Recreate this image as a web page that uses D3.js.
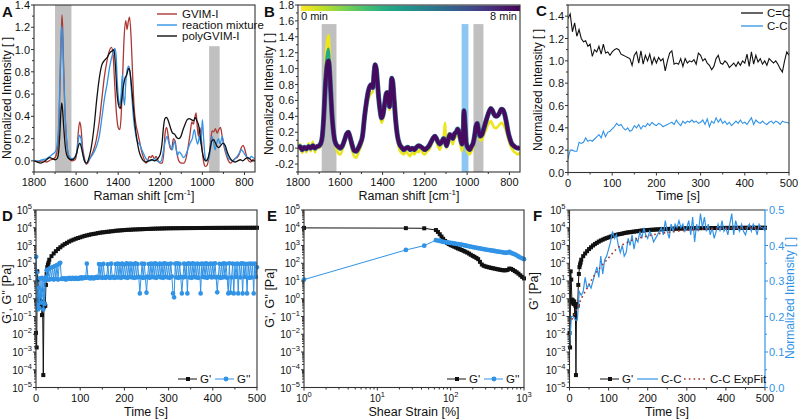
<!DOCTYPE html>
<html><head><meta charset="utf-8">
<script src="https://cdn.jsdelivr.net/npm/d3@7"></script>
<style>body{margin:0;background:#fff}</style>
</head><body><svg id="c" width="800" height="420" xmlns="http://www.w3.org/2000/svg"></svg>
<script>
// ---------------- DATA ----------------
// Panel A: Raman spectra [wavenumber, normalized intensity]
const gvimI = [[1800,0.0],[1780,-0.01],[1760,0.0],[1740,-0.01],[1720,0.01],[1705,0.02],[1695,0.05],[1688,0.12],[1681,0.35],[1675,0.8],[1670,1.15],[1667,1.31],[1664,1.2],[1660,0.9],[1654,0.5],[1647,0.22],[1640,0.08],[1632,0.02],[1620,0.0],[1605,0.01],[1596,0.08],[1590,0.25],[1583,0.35],[1577,0.3],[1569,0.12],[1560,0.02],[1552,-0.03],[1545,-0.02],[1535,0.02],[1520,0.08],[1505,0.18],[1490,0.35],[1478,0.55],[1466,0.75],[1455,0.88],[1445,0.97],[1432,1.02],[1424,0.95],[1417,0.7],[1408,0.42],[1400,0.3],[1392,0.28],[1386,0.4],[1379,0.75],[1372,1.1],[1364,1.26],[1358,1.18],[1352,1.25],[1346,1.29],[1339,1.12],[1332,0.8],[1325,0.5],[1316,0.33],[1308,0.26],[1298,0.17],[1288,0.08],[1278,0.02],[1268,-0.02],[1260,0.0],[1253,0.04],[1245,0.03],[1238,0.05],[1228,0.02],[1220,0.04],[1210,0.0],[1200,-0.02],[1190,-0.02],[1183,0.08],[1177,0.25],[1170,0.3],[1162,0.22],[1154,0.12],[1146,0.1],[1138,0.2],[1130,0.18],[1122,0.08],[1112,0.0],[1100,-0.02],[1088,-0.02],[1078,0.02],[1068,0.12],[1058,0.25],[1050,0.35],[1043,0.33],[1030,0.43],[1024,0.3],[1019,0.22],[1013,0.3],[1007,0.25],[1000,0.08],[993,-0.02],[986,-0.05],[978,-0.04],[970,0.02],[962,0.14],[954,0.27],[946,0.26],[938,0.29],[930,0.25],[922,0.28],[914,0.3],[906,0.22],[896,0.12],[886,0.05],[876,0.0],[866,-0.02],[856,0.0],[845,0.02],[835,0.03],[825,0.06],[815,0.12],[806,0.14],[798,0.1],[790,0.04],[780,0.0],[770,-0.01],[760,0.01],[750,0.0]];
const reactionMix = [[1800,0.0],[1780,0.0],[1760,0.01],[1740,0.02],[1725,0.04],[1712,0.06],[1700,0.08],[1692,0.12],[1685,0.25],[1679,0.55],[1674,0.95],[1669,1.21],[1665,1.15],[1660,0.85],[1654,0.5],[1647,0.25],[1640,0.1],[1632,0.04],[1620,0.02],[1606,0.03],[1596,0.08],[1590,0.18],[1584,0.23],[1577,0.2],[1569,0.08],[1560,0.0],[1552,-0.02],[1545,-0.01],[1535,0.02],[1520,0.06],[1505,0.12],[1490,0.22],[1478,0.38],[1466,0.55],[1452,0.7],[1440,0.85],[1428,0.95],[1416,1.01],[1410,0.95],[1404,0.7],[1398,0.55],[1392,0.5],[1386,0.6],[1380,0.78],[1375,0.58],[1370,0.5],[1364,0.7],[1357,0.82],[1350,0.85],[1344,0.8],[1336,0.6],[1328,0.4],[1318,0.25],[1308,0.17],[1298,0.15],[1288,0.1],[1278,0.06],[1268,0.02],[1258,0.0],[1248,0.0],[1238,0.01],[1228,0.02],[1215,0.0],[1205,-0.01],[1195,0.0],[1186,0.08],[1176,0.18],[1168,0.22],[1160,0.17],[1150,0.12],[1142,0.1],[1134,0.18],[1126,0.12],[1118,0.05],[1110,0.08],[1100,0.06],[1090,0.03],[1080,0.05],[1070,0.1],[1058,0.16],[1048,0.2],[1038,0.28],[1030,0.2],[1022,0.15],[1014,0.22],[1007,0.15],[1000,0.37],[994,0.2],[988,0.05],[980,0.0],[970,0.02],[962,0.1],[955,0.22],[948,0.18],[940,0.1],[932,0.16],[924,0.2],[916,0.15],[906,0.22],[898,0.15],[888,0.08],[878,0.03],[866,0.01],[855,0.0],[845,0.02],[835,0.04],[825,0.07],[815,0.1],[806,0.08],[796,0.05],[786,0.03],[776,0.02],[768,0.04],[760,0.03],[750,0.02]];
const polyGVIM = [[1800,0.0],[1785,-0.01],[1770,-0.02],[1755,-0.01],[1740,0.01],[1725,0.03],[1712,0.02],[1700,0.01],[1690,0.02],[1683,0.08],[1677,0.25],[1672,0.45],[1668,0.52],[1664,0.45],[1658,0.28],[1652,0.14],[1644,0.05],[1634,0.02],[1620,0.01],[1606,0.03],[1596,0.08],[1588,0.14],[1582,0.16],[1575,0.12],[1567,0.05],[1558,-0.01],[1550,-0.02],[1540,0.02],[1528,0.12],[1515,0.3],[1502,0.55],[1490,0.74],[1478,0.86],[1466,0.9],[1452,0.93],[1440,0.97],[1428,0.99],[1420,1.0],[1413,0.85],[1406,0.62],[1398,0.5],[1390,0.47],[1383,0.55],[1376,0.66],[1368,0.74],[1360,0.77],[1350,0.83],[1344,0.8],[1336,0.66],[1328,0.48],[1320,0.32],[1310,0.18],[1300,0.08],[1290,0.03],[1280,0.0],[1268,-0.01],[1255,0.0],[1240,0.01],[1225,0.0],[1212,0.02],[1200,0.06],[1192,0.15],[1185,0.3],[1178,0.38],[1170,0.39],[1162,0.36],[1152,0.3],[1142,0.25],[1132,0.24],[1122,0.21],[1112,0.2],[1102,0.22],[1092,0.28],[1082,0.33],[1072,0.37],[1062,0.38],[1052,0.37],[1042,0.36],[1034,0.39],[1026,0.36],[1018,0.32],[1010,0.22],[1002,0.1],[994,0.03],[984,0.0],[974,0.02],[964,0.1],[955,0.18],[946,0.19],[938,0.16],[930,0.13],[922,0.12],[912,0.14],[902,0.16],[892,0.14],[882,0.08],[870,0.03],[858,0.0],[845,-0.01],[832,0.0],[820,0.01],[808,0.0],[795,0.02],[785,0.03],[775,0.02],[765,0.0],[750,0.0]];
const aLegend = ["GVIM-I", "reaction mixture", "polyGVIM-I"];
const ramanTicks = [1800, 1600, 1400, 1200, 1000, 800];

// Panel B: time-resolved spectra (0 min, ~2 min, 8 min)
const spec0min = [[1800,-0.03],[1790,0.05],[1780,-0.06],[1770,0.0],[1760,-0.05],[1750,0.06],[1740,-0.04],[1730,0.08],[1720,-0.05],[1710,0.03],[1700,0.0],[1692,0.05],[1685,0.2],[1678,0.55],[1672,0.95],[1666,1.25],[1660,1.38],[1655,1.42],[1650,1.2],[1645,0.85],[1640,0.5],[1634,0.25],[1628,0.1],[1620,0.0],[1610,-0.06],[1600,-0.08],[1590,-0.02],[1580,0.08],[1570,0.15],[1562,0.17],[1555,0.1],[1545,-0.02],[1535,-0.1],[1525,-0.12],[1515,-0.06],[1505,0.0],[1495,0.1],[1485,0.32],[1475,0.52],[1467,0.62],[1460,0.66],[1452,0.7],[1446,0.7],[1440,0.9],[1435,1.02],[1430,0.98],[1424,0.8],[1418,0.58],[1412,0.42],[1405,0.32],[1398,0.36],[1390,0.5],[1383,0.62],[1378,0.66],[1372,0.56],[1367,0.48],[1362,0.64],[1357,0.84],[1352,0.82],[1345,0.55],[1338,0.3],[1330,0.1],[1320,-0.02],[1310,-0.06],[1300,-0.08],[1290,-0.04],[1280,-0.07],[1270,-0.1],[1260,-0.05],[1250,-0.08],[1240,-0.03],[1230,-0.05],[1220,0.0],[1210,-0.06],[1200,-0.08],[1190,-0.04],[1180,-0.02],[1170,0.04],[1160,0.1],[1152,0.12],[1145,0.08],[1138,0.02],[1130,-0.02],[1120,0.05],[1112,0.1],[1105,0.32],[1098,0.0],[1090,0.05],[1082,0.12],[1075,0.1],[1068,0.05],[1060,0.12],[1052,0.15],[1045,0.18],[1038,0.12],[1030,0.02],[1024,-0.04],[1019,0.12],[1015,0.42],[1010,0.25],[1004,0.0],[996,-0.06],[988,-0.08],[980,-0.04],[972,0.0],[965,0.1],[958,0.22],[952,0.26],[946,0.18],[938,0.1],[930,0.1],[922,0.16],[912,0.22],[904,0.28],[896,0.32],[888,0.34],[880,0.3],[872,0.26],[864,0.25],[855,0.27],[846,0.3],[838,0.32],[830,0.3],[822,0.26],[814,0.2],[806,0.12],[798,0.05],[790,0.0],[780,-0.04],[770,-0.06],[760,-0.08],[750,-0.05]];
const spec2min = [[1700,0.02],[1692,0.05],[1685,0.18],[1678,0.48],[1672,0.85],[1666,1.1],[1660,1.22],[1655,1.25],[1650,1.06],[1645,0.78],[1640,0.48],[1634,0.25],[1628,0.11],[1620,0.03],[1610,0.0],[1600,-0.02]];
const spec8min = [[1800,0.0],[1790,0.02],[1780,-0.02],[1770,0.01],[1760,-0.01],[1750,0.02],[1740,0.0],[1730,0.03],[1720,0.0],[1710,0.02],[1700,0.03],[1692,0.06],[1685,0.15],[1678,0.4],[1672,0.72],[1666,0.95],[1660,1.08],[1655,1.1],[1650,0.95],[1645,0.7],[1640,0.45],[1634,0.25],[1628,0.12],[1620,0.05],[1610,0.02],[1600,0.0],[1590,0.03],[1580,0.1],[1570,0.18],[1562,0.2],[1555,0.15],[1545,0.05],[1535,-0.03],[1525,-0.04],[1515,0.0],[1505,0.06],[1495,0.15],[1485,0.4],[1475,0.6],[1467,0.72],[1460,0.78],[1452,0.8],[1446,0.76],[1440,0.95],[1435,1.05],[1430,1.0],[1424,0.82],[1418,0.62],[1412,0.48],[1405,0.38],[1398,0.42],[1390,0.56],[1383,0.68],[1378,0.7],[1372,0.6],[1367,0.52],[1362,0.68],[1357,0.88],[1352,0.84],[1345,0.6],[1338,0.35],[1330,0.16],[1320,0.05],[1310,0.01],[1300,-0.02],[1290,0.0],[1280,0.01],[1270,-0.02],[1260,0.0],[1250,-0.02],[1240,0.01],[1230,0.03],[1220,0.02],[1210,0.0],[1200,-0.02],[1190,0.0],[1180,0.03],[1170,0.08],[1160,0.13],[1152,0.15],[1145,0.12],[1138,0.08],[1130,0.05],[1120,0.08],[1112,0.12],[1105,0.1],[1098,0.03],[1090,0.1],[1082,0.17],[1075,0.15],[1068,0.12],[1060,0.18],[1052,0.2],[1045,0.24],[1038,0.2],[1030,0.1],[1024,0.05],[1019,0.18],[1015,0.47],[1010,0.3],[1004,0.06],[996,0.0],[988,-0.02],[980,0.02],[972,0.06],[965,0.15],[958,0.28],[952,0.31],[946,0.22],[938,0.15],[930,0.17],[922,0.24],[912,0.33],[904,0.4],[896,0.46],[888,0.5],[880,0.47],[872,0.42],[864,0.4],[855,0.41],[846,0.45],[838,0.49],[830,0.48],[822,0.42],[814,0.32],[806,0.2],[798,0.12],[790,0.06],[780,0.03],[770,0.01],[760,0.0],[750,0.01]];
const bColorLabels = ["0 min", "8 min"];

// Panel C / F: band intensities vs time
const cTime = [0,5,10,15,20,25,30,35,40,45,50,55,60,65,70,75,80,85,90,95,100,105,110,115,120,125,130,135,140,145,150,155,160,165,170,175,180,185,190,195,200,205,210,215,220,225,230,235,240,245,250,255,260,265,270,275,280,285,290,295,300,305,310,315,320,325,330,335,340,345,350,355,360,365,370,375,380,385,390,395,400,405,410,415,420,425,430,435,440,445,450,455,460,465,470,475,480,485,490,495,500];
const cCC2 = [1.38,1.42,1.26,1.34,1.22,1.28,1.2,1.17,1.18,1.13,1.15,1.04,1.1,1.08,1.13,1.06,1.15,1.07,1.08,1.05,1.08,1.1,1.11,1.1,1.06,1.05,1.04,1.03,1.02,0.96,1.05,1.08,0.98,1.09,0.97,1.05,1.0,1.06,0.97,1.03,0.98,1.03,1.0,1.02,0.91,1.0,1.07,1.09,0.97,0.98,0.97,1.02,0.95,1.02,0.98,1.0,0.99,1.01,0.97,1.07,1.05,1.0,1.02,0.98,0.96,0.92,0.95,1.02,1.05,0.98,0.97,1.0,0.98,0.94,0.96,0.98,0.95,0.99,0.96,1.0,0.98,1.06,0.95,1.08,0.97,1.05,0.99,1.02,0.97,1.0,0.96,1.02,1.0,0.98,1.0,0.97,0.93,0.9,1.0,1.08,1.05];
const cCC1 = [0.12,0.2,0.2,0.19,0.19,0.27,0.26,0.27,0.31,0.28,0.29,0.28,0.3,0.32,0.34,0.31,0.37,0.32,0.36,0.37,0.39,0.41,0.44,0.42,0.43,0.4,0.38,0.4,0.37,0.38,0.42,0.4,0.43,0.39,0.42,0.41,0.44,0.42,0.45,0.43,0.42,0.44,0.43,0.41,0.42,0.43,0.44,0.45,0.43,0.47,0.44,0.42,0.46,0.44,0.46,0.45,0.47,0.45,0.46,0.44,0.45,0.47,0.43,0.48,0.41,0.46,0.44,0.49,0.45,0.48,0.44,0.46,0.43,0.45,0.42,0.44,0.46,0.44,0.47,0.44,0.45,0.43,0.46,0.49,0.43,0.47,0.45,0.44,0.46,0.44,0.43,0.45,0.46,0.44,0.46,0.45,0.43,0.46,0.45,0.45,0.44];
const cLegend = ["C=C", "C-C"];
const timeTicks = [0, 100, 200, 300, 400, 500];

// Panel D / F: time sweep rheology
const gpTime = [0,1.5,3,4.5,6,7.5,9,10.5,12,13.5,15,16.5,18,19.5,21,22.5,24,25.5,27,28.5,30,35,40,45,50,55,60,65,70,75,80,85,90,95,100,105,110,115,120,125,130,135,140,145,150,155,160,165,170,175,180,185,190,195,200,205,210,215,220,225,230,235,240,245,250,255,260,265,270,275,280,285,290,295,300,305,310,315,320,325,330,335,340,345,350,355,360,365,370,375,380,385,390,395,400,405,410,415,420,425,430,435,440,445,450,455,460,465,470,475,480,485,490,495,500];
const gpVal = [0.012,0.0018,35,12,0.9,0.6,0.8,0.5,0.7,0.12,0.4,0.00005,0.35,0.5,0.4,6,25,60,85,110,158,251,355,479,631,794,1000,1202,1413,1660,1905,2138,2399,2630,2884,3162,3467,3715,3981,4266,4467,4677,5012,5248,5495,5623,5888,6026,6310,6457,6761,6918,7079,7244,7413,7586,7674,7762,7943,8035,8128,8222,8318,8414,8511,8610,8710,8810,8913,8974,9036,9120,9183,9247,9333,9360,9390,9420,9450,9480,9500,9530,9550,9580,9600,9620,9640,9660,9680,9700,9720,9740,9750,9770,9780,9800,9810,9820,9840,9850,9860,9870,9880,9890,9900,9910,9920,9930,9940,9950,9955,9960,9970,9980,9990];
const gppTime = [0.5,1.5,3,4.5,6,7.5,9,10.5,12,13.5,15,16.5,18,19.5,21,22.5,24,25.5,27.5,30,32.5,35,37.5,40,42.5,45,47.5,50,52.5,55,57.5,
  60,62.5,65,67.5,70,72.5,75,77.5,80,82.5,85,87.5,90,92.5,95,97.5,100,102.5,105,107.5,110,112.5,115,117.5,120,122.5,125,127.5,130,132.5,135,137.5,140,142.5,145,147.5,150,152.5,155,157.5,160,162.5,165,167.5,170,172.5,175,177.5,180,182.5,185,
  187.5,190,192.5,195,197.5,200,202.5,205,207.5,210,212.5,215,217.5,220,222.5,225,227.5,230,232.5,235,237.5,240,242.5,245,247.5,250,252.5,255,257.5,260,262.5,265,267.5,270,272.5,275,277.5,280,282.5,285,287.5,290,292.5,295,297.5,300,302.5,305,307.5,310,312.5,315,317.5,320,322.5,325,327.5,330,332.5,335,337.5,340,342.5,345,347.5,350,352.5,355,357.5,360,362.5,365,367.5,370,372.5,375,377.5,380,382.5,385,387.5,390,392.5,395,397.5,400,402.5,405,407.5,410,412.5,415,417.5,420,422.5,425,427.5,430,432.5,435,437.5,440,442.5,445,447.5,450,452.5,455,457.5,460,462.5,465,467.5,470,472.5,475,477.5,480,482.5,485,487.5,490,492.5,495,497.5,500];
const gppVal = [230,30,0.45,0.25,4,0.3,14,1.5,0.6,15,3,0.25,12,0.5,15,16,40,12,45,12,55,13,62,12,70,13,80,12,95,105,13,
  14,13,14,12,14,13,15,14,13,15,14,13,15,14,13,15,14,16,14,15,16,15,95,16,15,14,16,15,14,16,15,17,15,90,16,85,15,92,16,15,17,88,16,15,95,16,17,15,90,16,95,
  16,90,15,95,17,85,16,98,15,92,
  17,95,16,88,15,100,16,90,17,2,
  16,95,15,92,16,2.2,18,90,15,97,
  17,92,16,100,15,88,18,95,16,90,
  15,98,17,93,16,90,15,96,18,2,
  1.2,95,16,100,15,92,17,2,16,95,
  17,90,2,98,16,93,15,100,17,91,
  16,96,15,90,2,95,17,92,16,98,
  15,90,18,97,16,92,17,100,16,2.3,
  17,94,15,90,16,98,17,93,15,2,
  100,2.2,16,95,2,90,17,96,2,91,
  16,98,2,95,17,90,2,93,15,97,
  16,92,2,95,17,60];
const dLegend = ["G'", "G''"];

// Panel E: strain sweep
const strainGp = [1,24.5,43.6,63,67,71,75,79,84,89,94,100,106,112,119,126,133,141,150,158,168,178,188,200,211,224,237,251,266,282,299,316,335,355,376,398,422,447,473,501,531,562,596,631,668,708,750,794,841,891,944,1000];
const eGp = [9800,9500,9300,7400,5800,4300,3200,2400,1800,1400,1200,1050,950,850,760,680,620,560,500,450,400,350,300,260,230,200,170,120,85,72,66,62,58,55,52,50,47,45,43,41,40,40,42,50,48,42,36,31,26,21,17,14];
const eGpp = [12,560,980,2000,1900,1800,1700,1600,1550,1500,1450,1400,1350,1300,1250,1200,1150,1100,1050,1000,950,900,860,820,780,740,710,680,650,620,590,570,550,530,510,490,470,450,440,420,400,390,400,430,380,350,320,280,240,210,190,170];
const logDecades = [-5,-4,-3,-2,-1,0,1,2,3,4,5];
const strainDecades = [0,1,2,3];

// Panel F: exponential fit of C-C band
const fitTime = [0,10,20,30,40,50,60,80,100,120,150,200,250,300,400,500];
const fitVal = [0.18,0.2,0.225,0.25,0.27,0.29,0.31,0.34,0.365,0.39,0.41,0.427,0.437,0.443,0.448,0.45];
const fLegend = ["G'", "C-C", "C-C ExpFit"];

// ---------------- DRAWING ----------------
const FONT = "'Liberation Sans', Arial, Helvetica, sans-serif";
const BLUE = '#3193e6';
const RED = '#ae3833';
const AXC = '#333333';
const BAND = '#c0c0c0';
const svg = d3.select('#c');

function text(x, y, s, o = {}) {
  const t = svg.append('text').attr('x', x).attr('y', y).text(s)
    .attr('font-family', FONT).attr('font-size', o.size || 11)
    .attr('fill', o.fill || '#111').attr('text-anchor', o.anchor || 'start');
  if (o.weight) t.attr('font-weight', o.weight);
  if (o.rot) t.attr('transform', `rotate(${o.rot},${x},${y})`);
  return t;
}
function line(x1, y1, x2, y2, c = AXC, w = 1) {
  svg.append('line').attr('x1', x1).attr('y1', y1).attr('x2', x2).attr('y2', y2).attr('stroke', c).attr('stroke-width', w);
}
function pow10(t, k) {
  t.text('10');
  t.append('tspan').attr('dy', -5).attr('font-size', 7.5).text(k < 0 ? '\u2212' + (-k) : String(k));
}
function clip(id, b) {
  svg.append('clipPath').attr('id', id).append('rect').attr('x', b.l).attr('y', b.t).attr('width', b.r - b.l).attr('height', b.b - b.t);
  return svg.append('g').attr('clip-path', `url(#${id})`);
}
function frame(b) {
  svg.append('rect').attr('x', b.l).attr('y', b.t).attr('width', b.r - b.l).attr('height', b.b - b.t)
    .attr('fill', 'none').attr('stroke', AXC).attr('stroke-width', 1.1);
}
function xLin(b, sc, major, minor, fmt) {
  major.forEach(v => { line(sc(v), b.b, sc(v), b.b + 3); text(sc(v), b.b + 14, fmt(v), { anchor: 'middle' }); });
  minor.forEach(v => line(sc(v), b.b, sc(v), b.b + 2));
}
function yLin(b, sc, major, minor, fmt) {
  major.forEach(v => { line(b.l - 3, sc(v), b.l, sc(v)); text(b.l - 4, sc(v) + 4, fmt(v), { anchor: 'end' }); });
  minor.forEach(v => line(b.l - 2, sc(v), b.l, sc(v)));
}
function yLog(b, sc) {
  logDecades.forEach(k => {
    const y = sc(Math.pow(10, k));
    line(b.l - 3, y, b.l, y);
    pow10(text(b.l - 4, y + 4, '', { anchor: 'end', size: 10 }), k);
    if (k < 5) for (let m = 2; m < 10; m++) { const yy = sc(m * Math.pow(10, k)); line(b.l - 2, yy, b.l, yy); }
  });
}
const f1 = v => v.toFixed(1);
function range(a, b, s) { const r = []; for (let v = a; v <= b + 1e-9; v += s) r.push(+v.toFixed(3)); return r; }
function square(g, x, y, s, c) { g.append('rect').attr('x', x - s / 2).attr('y', y - s / 2).attr('width', s).attr('height', s).attr('fill', c); }
function dot(g, x, y, r, c) { g.append('circle').attr('cx', x).attr('cy', y).attr('r', r).attr('fill', c); }

// ===== Panel A =====
{
  const b = { l: 34, r: 255, t: 5, b: 172 };
  const x = d3.scaleLinear().domain([1800, 750]).range([b.l, b.r]);
  const y = d3.scaleLinear().domain([-0.1, 1.4]).range([b.b, b.t]);
  const g = clip('clipA', b);
  g.append('rect').attr('x', x(1700)).attr('width', x(1622) - x(1700)).attr('y', b.t).attr('height', b.b - b.t).attr('fill', BAND);
  g.append('rect').attr('x', x(968)).attr('width', x(918) - x(968)).attr('y', y(1.03)).attr('height', b.b - y(1.03)).attr('fill', BAND);
  const ln = d3.line().x(d => x(d[0])).y(d => y(d[1])).curve(d3.curveMonotoneX);
  const series = [[gvimI, RED], [reactionMix, BLUE], [polyGVIM, '#111']];
  series.forEach(([d, c]) => g.append('path').attr('d', ln(d.slice().reverse())).attr('fill', 'none').attr('stroke', c).attr('stroke-width', 1.3));
  frame(b);
  xLin(b, x, ramanTicks, [1700, 1500, 1300, 1100, 900], v => v);
  yLin(b, y, range(0, 1.4, 0.2), range(-0.1, 1.3, 0.2), f1);
  series.forEach(([d, c], i) => { line(157, 14 + i * 11, 177, 14 + i * 11, c, 1.4); text(182, 18 + i * 11, aLegend[i], { size: 11.5 }); });
  const tt = text(144, 200, 'Raman shift [cm', { anchor: 'middle', size: 12.5 });
  tt.append('tspan').attr('dy', -5).attr('font-size', 8).text('-1');
  tt.append('tspan').attr('dy', 5).text(']');
  text(11, 98, 'Normalized Intensity [ ]', { anchor: 'middle', size: 12, rot: -90 });
  text(2, 17, 'A', { size: 15, weight: 'bold' });
}

// ===== Panel B =====
{
  const b = { l: 298, r: 520, t: 5, b: 172 };
  const x = d3.scaleLinear().domain([1800, 750]).range([b.l, b.r]);
  const y = d3.scaleLinear().domain([-0.3, 1.8]).range([b.b, b.t]);
  const g = clip('clipB', b);
  const top = y(1.56);
  g.append('rect').attr('x', x(1688)).attr('width', x(1618) - x(1688)).attr('y', top).attr('height', b.b - top).attr('fill', BAND);
  g.append('rect').attr('x', x(1026)).attr('width', x(994) - x(1026)).attr('y', top).attr('height', b.b - top).attr('fill', '#8cc6f2');
  g.append('rect').attr('x', x(970)).attr('width', x(923) - x(970)).attr('y', top).attr('height', b.b - top).attr('fill', BAND);
  const ln = d3.line().x(d => x(d[0])).y(d => y(d[1])).curve(d3.curveMonotoneX);
  g.append('path').attr('d', ln(spec0min.slice().reverse())).attr('fill', 'none').attr('stroke', d3.interpolateViridis(0.97)).attr('stroke-width', 2.6);
  g.append('path').attr('d', ln(spec2min.slice().reverse())).attr('fill', 'none').attr('stroke', d3.interpolateViridis(0.6)).attr('stroke-width', 2.4);
  g.append('path').attr('d', ln(spec8min.slice().reverse())).attr('fill', 'none').attr('stroke', d3.interpolateViridis(0.35)).attr('stroke-width', 5);
  g.append('path').attr('d', ln(spec8min.slice().reverse())).attr('fill', 'none').attr('stroke', d3.interpolateViridis(0.03)).attr('stroke-width', 3.8);
  // colour bar
  const grad = svg.append('defs').append('linearGradient').attr('id', 'vir');
  for (let i = 0; i <= 10; i++) grad.append('stop').attr('offset', i / 10).attr('stop-color', d3.interpolateViridis(1 - i / 10));
  svg.append('rect').attr('x', b.l + 3).attr('y', b.t + 0.5).attr('width', b.r - b.l - 3).attr('height', 5.5).attr('fill', 'url(#vir)');
  text(b.l + 3, 20, bColorLabels[0], { size: 11 });
  text(b.r - 3, 20, bColorLabels[1], { size: 11, anchor: 'end' });
  frame(b);
  xLin(b, x, ramanTicks, [1700, 1500, 1300, 1100, 900], v => v);
  yLin(b, y, range(-0.2, 1.8, 0.2), range(-0.3, 1.7, 0.2), f1);
  const tt = text(409, 200, 'Raman shift [cm', { anchor: 'middle', size: 12.5 });
  tt.append('tspan').attr('dy', -5).attr('font-size', 8).text('-1');
  tt.append('tspan').attr('dy', 5).text(']');
  text(273, 94, 'Normalized Intensity [ ]', { anchor: 'middle', size: 12, rot: -90 });
  text(264, 17, 'B', { size: 15, weight: 'bold' });
}

// ===== Panel C =====
{
  const b = { l: 568, r: 789, t: 5, b: 172.5 };
  const x = d3.scaleLinear().domain([0, 500]).range([b.l, b.r]);
  const y = d3.scaleLinear().domain([0, 1.5]).range([b.b, b.t]);
  const g = clip('clipC', b);
  const ln = d3.line().x((d, i) => x(cTime[i])).y(d => y(d));
  g.append('path').attr('d', ln(cCC2)).attr('fill', 'none').attr('stroke', '#111').attr('stroke-width', 1.1);
  g.append('path').attr('d', ln(cCC1)).attr('fill', 'none').attr('stroke', BLUE).attr('stroke-width', 1.1);
  frame(b);
  xLin(b, x, timeTicks, [50, 150, 250, 350, 450], v => v);
  yLin(b, y, range(0, 1.4, 0.2), range(0.1, 1.5, 0.2), f1);
  [['#111', 13], [BLUE, 26]].forEach(([c, yy], i) => { line(741, yy, 763, yy, c, 1.3); text(767, yy + 4, cLegend[i], { size: 11.5 }); });
  text(678, 200, 'Time [s]', { anchor: 'middle', size: 12.5 });
  text(542, 90, 'Normalized Intensity [ ]', { anchor: 'middle', size: 12, rot: -90 });
  text(536, 16, 'C', { size: 15, weight: 'bold' });
}

// ===== Panel D =====
{
  const b = { l: 36, r: 257, t: 210, b: 387.5 };
  const x = d3.scaleLinear().domain([0, 500]).range([b.l, b.r]);
  const y = d3.scaleLog().domain([1e-5, 1e5]).range([b.b, b.t]);
  const g = clip('clipD', { l: b.l - 3, r: b.r + 3, t: b.t - 3, b: b.b + 3 });
  const lnP = d3.line().x((d, i) => x(gpTime[i])).y(d => y(d));
  g.append('path').attr('d', lnP(gpVal)).attr('fill', 'none').attr('stroke', '#111').attr('stroke-width', 1);
  gpVal.forEach((v, i) => square(g, x(gpTime[i]), y(v), 4, '#111'));
  const lnPP = d3.line().x((d, i) => x(gppTime[i])).y(d => y(d));
  g.append('path').attr('d', lnPP(gppVal)).attr('fill', 'none').attr('stroke', BLUE).attr('stroke-width', 1);
  gppVal.forEach((v, i) => dot(g, x(gppTime[i]), y(v), 2.3, BLUE));
  frame(b);
  xLin(b, x, timeTicks, [50, 150, 250, 350, 450], v => v);
  yLog(b, y);
  line(178, 379, 197, 379, '#111'); square(svg, 188, 379, 4, '#111'); text(200, 383, dLegend[0], { size: 11.5 });
  line(215, 379, 234, 379, BLUE); dot(svg, 226, 379, 2.4, BLUE); text(237, 383, dLegend[1], { size: 11.5 });
  text(146, 416, 'Time [s]', { anchor: 'middle', size: 12.5 });
  text(11, 294, "G', G'' [Pa]", { anchor: 'middle', size: 12.5, rot: -90 });
  text(2, 221, 'D', { size: 15, weight: 'bold' });
}

// ===== Panel E =====
{
  const b = { l: 304, r: 524, t: 210, b: 387.5 };
  const x = d3.scaleLog().domain([1, 1000]).range([b.l, b.r]);
  const y = d3.scaleLog().domain([1e-5, 1e5]).range([b.b, b.t]);
  const g = clip('clipE', { l: b.l - 3, r: b.r + 3, t: b.t - 3, b: b.b + 3 });
  const ln = (arr) => d3.line().x((d, i) => x(strainGp[i])).y(d => y(d))(arr);
  g.append('path').attr('d', ln(eGp)).attr('fill', 'none').attr('stroke', '#111').attr('stroke-width', 1);
  g.append('path').attr('d', ln(eGpp)).attr('fill', 'none').attr('stroke', BLUE).attr('stroke-width', 1);
  eGp.forEach((v, i) => square(g, x(strainGp[i]), y(v), 4, '#111'));
  eGpp.forEach((v, i) => dot(g, x(strainGp[i]), y(v), 2.4, BLUE));
  frame(b);
  strainDecades.forEach(k => {
    const xx = x(Math.pow(10, k));
    line(xx, b.b, xx, b.b + 3);
    pow10(text(xx, b.b + 14, '', { anchor: 'middle', size: 10 }), k);
    if (k < 3) for (let m = 2; m < 10; m++) { const x2 = x(m * Math.pow(10, k)); line(x2, b.b, x2, b.b + 2); }
  });
  yLog(b, y);
  line(447, 379, 466, 379, '#111'); square(svg, 457, 379, 4, '#111'); text(469, 383, dLegend[0], { size: 11.5 });
  line(484, 379, 503, 379, BLUE); dot(svg, 494, 379, 2.4, BLUE); text(506, 383, dLegend[1], { size: 11.5 });
  text(414, 416, 'Shear Strain [%]', { anchor: 'middle', size: 12.5 });
  text(274, 298, "G', G'' [Pa]", { anchor: 'middle', size: 12.5, rot: -90 });
  text(267, 221, 'E', { size: 15, weight: 'bold' });
}

// ===== Panel F =====
{
  const b = { l: 569.5, r: 765, t: 210, b: 387.5 };
  const x = d3.scaleLinear().domain([0, 500]).range([b.l, b.r]);
  const y = d3.scaleLog().domain([1e-5, 1e5]).range([b.b, b.t]);
  const y2 = d3.scaleLinear().domain([0, 0.5]).range([b.b, b.t]);
  const g = clip('clipF', { l: b.l - 3, r: b.r + 3, t: b.t - 3, b: b.b + 3 });
  const lnP = d3.line().x((d, i) => x(gpTime[i])).y(d => y(d));
  g.append('path').attr('d', lnP(gpVal)).attr('fill', 'none').attr('stroke', '#111').attr('stroke-width', 1);
  gpVal.forEach((v, i) => square(g, x(gpTime[i]), y(v), 4, '#111'));
  const ln2 = d3.line().x((d, i) => x(cTime[i])).y(d => y2(d));
  g.append('path').attr('d', ln2(cCC1)).attr('fill', 'none').attr('stroke', BLUE).attr('stroke-width', 1.2);
  const lnF = d3.line().x((d, i) => x(fitTime[i])).y(d => y2(d)).curve(d3.curveMonotoneX);
  g.append('path').attr('d', lnF(fitVal)).attr('fill', 'none').attr('stroke', '#a3302b').attr('stroke-width', 1.6).attr('stroke-dasharray', '1.6,3.2');
  svg.append('line').attr('x1', b.l).attr('x2', b.r).attr('y1', b.t).attr('y2', b.t).attr('stroke', AXC).attr('stroke-width', 1.1);
  svg.append('line').attr('x1', b.l).attr('x2', b.r).attr('y1', b.b).attr('y2', b.b).attr('stroke', AXC).attr('stroke-width', 1.1);
  svg.append('line').attr('x1', b.l).attr('x2', b.l).attr('y1', b.t).attr('y2', b.b).attr('stroke', AXC).attr('stroke-width', 1.1);
  svg.append('line').attr('x1', b.r).attr('x2', b.r).attr('y1', b.t).attr('y2', b.b).attr('stroke', BLUE).attr('stroke-width', 1.2);
  xLin(b, x, timeTicks, [50, 150, 250, 350, 450], v => v);
  yLog(b, y);
  range(0, 0.5, 0.1).forEach(v => { line(b.r, y2(v), b.r + 3, y2(v), BLUE); text(b.r + 4, y2(v) + 4, f1(v), { fill: BLUE, size: 11 }); });
  range(0.05, 0.45, 0.1).forEach(v => line(b.r, y2(v), b.r + 2, y2(v), BLUE));
  line(600, 379, 619, 379, '#111'); square(svg, 610, 379, 4, '#111'); text(622, 383, fLegend[0], { size: 11.5 });
  line(637, 379, 658, 379, BLUE, 1.2); text(661, 383, fLegend[1], { size: 11.5 });
  svg.append('line').attr('x1', 684).attr('x2', 705).attr('y1', 379).attr('y2', 379).attr('stroke', '#a3302b').attr('stroke-width', 1.6).attr('stroke-dasharray', '1.6,3.2');
  text(710, 383, fLegend[2], { size: 11.5 });
  text(667, 416, 'Time [s]', { anchor: 'middle', size: 12.5 });
  text(538, 291, "G' [Pa]", { anchor: 'middle', size: 12.5, rot: -90 });
  text(794, 298, 'Normalized Intensity [ ]', { anchor: 'middle', size: 12, rot: -90, fill: BLUE });
  text(533, 221, 'F', { size: 15, weight: 'bold' });
}
</script></body></html>
